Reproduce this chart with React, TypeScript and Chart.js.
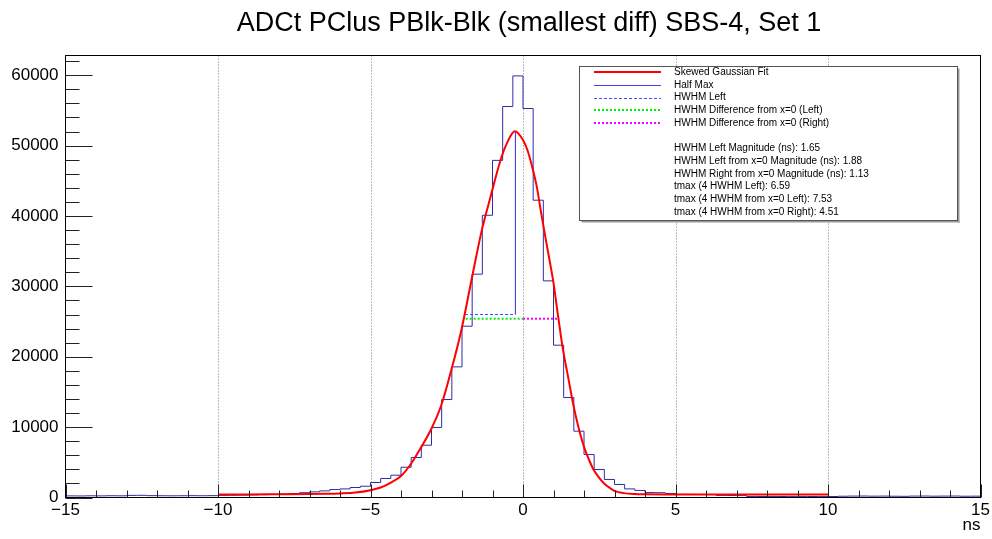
import React, { useEffect, useRef } from 'react';
import { Chart, registerables } from 'chart.js';

Chart.register(...registerables);

const FONT = '"Liberation Sans", Arial, Helvetica, sans-serif';

const TITLE = 'ADCt PClus PBlk-Blk (smallest diff) SBS-4, Set 1';
const X_TITLE = 'ns';
const X_MIN = -15;
const X_MAX = 15;
const Y_MAX = 62800;
const BINS_PER_NS = 3;

const xTickValues = [-15, -10, -5, 0, 5, 10, 15];
const yTickValues = [0, 10000, 20000, 30000, 40000, 50000, 60000];

// histogram bin contents (90 bins of 1/3 ns from -15 to 15)
const binsLeftTail = [
  230, 220, 240, 230, 250, 240, 300, 310, 260, 250, 240, 250, 260, 250, 260,
  300, 320, 340, 370, 400, 440,
  480, 560, 680, 800, 940, 1130, 1220, 1420, 1600,
];
const binsCore = [
  2130, 2700, 3170, 4300, 5680, 7430, 9950, 13920, 18560, 24340,
  31730, 40100, 47900, 55550, 59900, 55270, 42240, 30780, 21640, 14200,
  9420, 6100, 3980, 2560, 1850, 1220, 1000, 700, 680, 570,
];
const binsRightTail = [
  450, 440, 430, 420, 300, 280, 270, 150, 140, 150,
  140, 130, 150, 140, 130, 140, 180, 200, 210, 190,
  200, 180, 170, 200, 210, 190, 200, 210, 180, 190,
];

// skewed gaussian fit
const fitX = [
  -10, -9, -8, -7, -6.5, -6, -5.5, -5, -4.67, -4.33, -4, -3.67, -3.33, -3,
  -2.68, -2.35, -2.02, -1.67, -1.37, -1.09, -0.71, -0.5, -0.27, 0, 0.15, 0.3,
  0.45, 0.6, 0.75, 0.9, 1.0, 1.15, 1.3, 1.48, 1.64, 1.8, 2.0, 2.16, 2.32, 2.5,
  2.66, 2.85, 3.0, 3.3, 3.67, 4.0, 5.0, 7.0, 10.0,
];
const fitY = [
  430, 440, 460, 480, 520, 580, 700, 1040, 1420, 2130, 3050, 4800, 7200, 9800,
  13100, 18100, 23800, 31300, 37600, 42300, 48300, 50600, 52050, 50800, 49300, 47000,
  44200, 40300, 36600, 33000, 30500, 25800, 21300, 17100, 13400, 10300, 7200, 5400, 3900, 2800,
  2000, 1350, 950, 620, 480, 450, 440, 440, 440,
];

// half max / HWHM markers
const peakX = -0.25;
const fitMax = 52000;
const halfMax = 26000;
const hwhmLeftX = -1.9;
const diffY = 25400;
const diffLeftX = -1.88;
const diffRightX = 1.13;

const legendLabels = [
  'Skewed Gaussian Fit',
  'Half Max',
  'HWHM Left',
  'HWHM Difference from x=0 (Left)',
  'HWHM Difference from x=0 (Right)',
];
const legendStats = [
  'HWHM Left Magnitude (ns): 1.65',
  'HWHM Left from x=0 Magnitude (ns): 1.88',
  'HWHM Right from x=0 Magnitude (ns): 1.13',
  'tmax (4 HWHM Left): 6.59',
  'tmax (4 HWHM from x=0 Left): 7.53',
  'tmax (4 HWHM from x=0 Right): 4.51',
];

const xGridValues = [-10, -5, 0, 5, 10];

const HIST_COLOR = '#2d2daa';
const HALF_COLOR = '#3030d0';

const fmtNum = (v: number) => (v < 0 ? '\u2212' + Math.abs(v) : String(v));

const legendStyles = [
  { color: '#ff0000', width: 2, dash: [] as number[] },
  { color: '#3c3cf0', width: 1, dash: [] as number[] },
  { color: '#4848ff', width: 1, dash: [3, 2] },
  { color: '#00ee00', width: 2, dash: [2, 2] },
  { color: '#ff00ff', width: 2, dash: [2, 2] },
];

const decorPlugin = {
  id: 'rootDecor',
  beforeDatasetsDraw(chart: any) {
    const { ctx, chartArea: ca, scales } = chart;
    const x = scales.x;
    ctx.save();
    ctx.strokeStyle = '#7a7a7a';
    ctx.lineWidth = 1;
    ctx.setLineDash([1, 2]);
    for (const v of xGridValues) {
      const px = Math.round(x.getPixelForValue(v)) + 0.5;
      ctx.beginPath();
      ctx.moveTo(px, ca.top);
      ctx.lineTo(px, ca.bottom);
      ctx.stroke();
    }
    ctx.restore();
  },
  afterDatasetsDraw(chart: any) {
    const { ctx, chartArea: ca, scales } = chart;
    const x = scales.x;
    const y = scales.y;
    ctx.save();
    ctx.strokeStyle = '#222';
    ctx.lineWidth = 1;
    ctx.setLineDash([]);
    for (let v = X_MIN; v <= X_MAX; v += 1) {
      const px = Math.round(x.getPixelForValue(v)) + 0.5;
      const len = v % 5 === 0 ? 13 : 7;
      ctx.beginPath();
      ctx.moveTo(px, ca.bottom);
      ctx.lineTo(px, ca.bottom - len);
      ctx.stroke();
    }
    for (let v = 0; v <= Y_MAX; v += 2000) {
      const py = Math.round(y.getPixelForValue(v)) + 0.5;
      const len = v % 10000 === 0 ? 27 : 14;
      ctx.beginPath();
      ctx.moveTo(ca.left, py);
      ctx.lineTo(ca.left + len, py);
      ctx.stroke();
    }
    ctx.strokeStyle = '#000';
    ctx.strokeRect(ca.left, ca.top, ca.right - ca.left, ca.bottom - ca.top);
    ctx.restore();
  },
  afterDraw(chart: any) {
    const { ctx, chartArea: ca } = chart;
    ctx.save();
    ctx.fillStyle = '#000';
    ctx.font = `27px ${FONT}`;
    ctx.textAlign = 'center';
    ctx.textBaseline = 'alphabetic';
    ctx.fillText(TITLE, 529, 31);
    ctx.font = `17px ${FONT}`;
    ctx.textAlign = 'right';
    ctx.textBaseline = 'middle';
    ctx.fillText(X_TITLE, ca.right, 525);

    const bx = 579.5, by = 66.5, bw = 378, bh = 154;
    ctx.fillStyle = '#fff';
    ctx.fillRect(bx, by, bw, bh);
    ctx.fillStyle = '#999';
    ctx.fillRect(bx + bw, by + 2, 2, bh);
    ctx.fillRect(bx + 2, by + bh, bw, 2);
    ctx.strokeStyle = '#555';
    ctx.lineWidth = 1;
    ctx.strokeRect(bx, by, bw, bh);

    const rowH = 12.8;
    const y0 = 72;
    ctx.font = `10px ${FONT}`;
    ctx.textAlign = 'left';
    ctx.textBaseline = 'middle';
    legendLabels.forEach((lab, i) => {
      const ry = y0 + i * rowH;
      const st = legendStyles[i];
      ctx.save();
      ctx.strokeStyle = st.color;
      ctx.lineWidth = st.width;
      ctx.setLineDash(st.dash);
      ctx.beginPath();
      const ly = st.width === 1 ? Math.round(ry) + 0.5 : Math.round(ry);
      ctx.moveTo(594, ly);
      ctx.lineTo(661, ly);
      ctx.stroke();
      ctx.restore();
      ctx.fillStyle = '#000';
      ctx.fillText(lab, 674, ry);
    });
    legendStats.forEach((lab, i) => {
      const ry = y0 + (i + 6) * rowH - 0.5;
      ctx.fillStyle = '#000';
      ctx.fillText(lab, 674, ry);
    });
    ctx.restore();
  },
};

export default function App() {
  const ref = useRef<HTMLCanvasElement | null>(null);

  useEffect(() => {
    document.body.style.margin = '0';
    const canvas = ref.current;
    if (!canvas) return;

    const allBins = [...binsLeftTail, ...binsCore, ...binsRightTail];
    const histPts = allBins.map((c, i) => ({ x: X_MIN + i / BINS_PER_NS, y: c }));
    histPts.push({ x: X_MAX, y: allBins[allBins.length - 1] });

    const fitPts = fitX.map((xv, i) => ({ x: xv, y: fitY[i] }));

    const chart = new Chart(canvas, {
      type: 'line',
      data: {
        datasets: [
          {
            label: 'Skewed Gaussian Fit',
            data: fitPts,
            borderColor: '#ff0000',
            borderWidth: 2,
            pointRadius: 0,
            cubicInterpolationMode: 'monotone',
            order: 0,
          },
          {
            label: 'HWHM Difference from x=0 (Left)',
            data: [{ x: diffLeftX, y: diffY }, { x: 0, y: diffY }],
            borderColor: '#00ee00',
            borderWidth: 2,
            borderDash: [2, 2],
            pointRadius: 0,
            order: 1,
          },
          {
            label: 'HWHM Difference from x=0 (Right)',
            data: [{ x: 0, y: diffY }, { x: diffRightX, y: diffY }],
            borderColor: '#ff00ff',
            borderWidth: 2,
            borderDash: [2, 2],
            pointRadius: 0,
            order: 1,
          },
          {
            label: 'HWHM Left',
            data: [{ x: hwhmLeftX, y: halfMax }, { x: peakX, y: halfMax }],
            borderColor: '#4848ff',
            borderWidth: 1,
            borderDash: [3, 2],
            pointRadius: 0,
            order: 2,
          },
          {
            label: 'Half Max',
            data: [{ x: peakX, y: halfMax }, { x: peakX, y: fitMax }],
            borderColor: HALF_COLOR,
            borderWidth: 1,
            pointRadius: 0,
            order: 3,
          },
          {
            label: 'Histogram',
            data: histPts,
            borderColor: HIST_COLOR,
            borderWidth: 1,
            pointRadius: 0,
            stepped: 'before',
            order: 4,
          },
        ],
      },
      options: {
        animation: false,
        responsive: false,
        maintainAspectRatio: false,
        layout: { padding: { left: 0, top: 55.5, right: 11.5, bottom: 0 } },
        plugins: {
          legend: { display: false },
          title: { display: false },
          tooltip: { enabled: false },
        },
        scales: {
          x: {
            type: 'linear',
            min: X_MIN,
            max: X_MAX,
            grid: { display: false, drawTicks: false },
            border: { display: false },
            afterBuildTicks: (s: any) => {
              s.ticks = xTickValues.map((v) => ({ value: v }));
            },
            ticks: {
              padding: 3,
              color: '#000',
              autoSkip: false,
              maxRotation: 0,
              font: { size: 17, family: FONT },
              callback: (v: any) => fmtNum(Number(v)),
            },
            afterFit: (s: any) => {
              s.height = 41.5;
              s.paddingLeft = 0;
              s.paddingRight = 0;
            },
          },
          y: {
            type: 'linear',
            min: 0,
            max: Y_MAX,
            grid: { display: false, drawTicks: false },
            border: { display: false },
            afterBuildTicks: (s: any) => {
              s.ticks = yTickValues.map((v) => ({ value: v }));
            },
            ticks: {
              padding: 7,
              color: '#000',
              autoSkip: false,
              font: { size: 17, family: FONT },
              callback: (v: any) => String(v),
            },
            afterFit: (s: any) => {
              s.width = 65.5;
              s.paddingTop = 0;
              s.paddingBottom = 0;
            },
          },
        },
      },
      plugins: [decorPlugin],
    } as any);

    return () => chart.destroy();
  }, []);

  return (
    <div style={{ position: 'absolute', left: 0, top: 0, width: 992, height: 539, background: '#fff' }}>
      <canvas ref={ref} width={992} height={539} style={{ display: 'block', width: 992, height: 539 }} />
    </div>
  );
}
